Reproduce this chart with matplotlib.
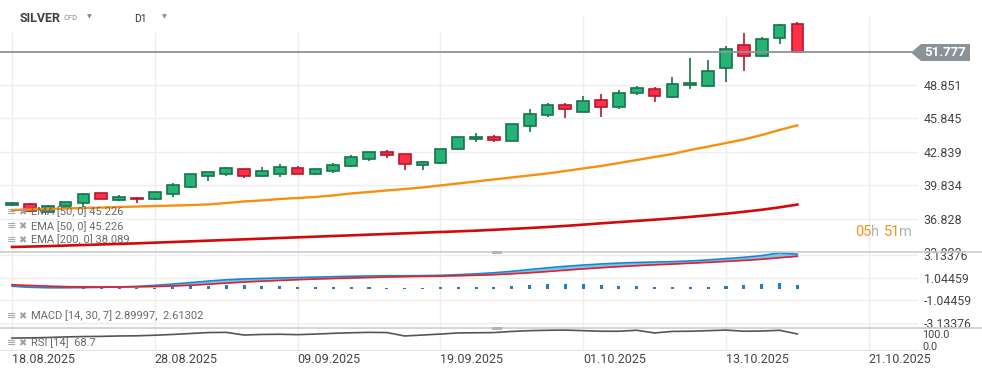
import matplotlib
matplotlib.use("Agg")
import matplotlib.pyplot as plt
from matplotlib.patches import Rectangle, Polygon
from matplotlib.lines import Line2D
import numpy as np

plt.rcParams['font.family'] = ['Roboto', 'DejaVu Sans']

# ---------------- data ----------------
date_labels = ["18.08.2025", "28.08.2025", "09.09.2025", "19.09.2025",
               "01.10.2025", "13.10.2025", "21.10.2025"]
label_idx = [0, 8, 16, 24, 32, 40, 48]

opens = [38.02, 38.15, 37.45, 37.95, 38.20, 39.10, 38.50, 38.72, 38.56, 39.00,
         39.70, 40.70, 40.88, 41.25, 40.70, 40.87, 41.35, 40.88, 41.15, 41.55,
         42.16, 42.80, 42.60, 41.65, 41.80, 43.06, 43.98, 44.14, 43.80, 45.13,
         46.12, 47.02, 46.45, 47.47, 46.90, 48.10, 48.46, 47.74, 48.82, 48.73,
         50.35, 52.45, 51.43, 53.05, 54.34]
highs = [38.30, 38.25, 38.05, 38.35, 39.15, 39.12, 38.95, 38.78, 39.25, 40.05,
         40.85, 41.02, 41.45, 41.28, 41.47, 41.74, 41.56, 41.28, 41.83, 42.55,
         42.82, 42.97, 42.62, 42.00, 43.08, 44.16, 44.53, 44.35, 45.33, 46.69,
         47.23, 47.23, 47.86, 48.04, 48.40, 48.76, 48.64, 49.57, 51.25, 51.10,
         52.36, 53.53, 53.17, 54.34, 54.52]
lows = [37.98, 37.45, 37.38, 37.78, 37.90, 38.55, 38.45, 38.20, 38.50, 38.80,
        39.60, 40.25, 40.70, 40.50, 40.60, 40.60, 40.85, 40.78, 40.96, 41.50,
        42.04, 42.30, 41.23, 41.23, 41.78, 43.04, 43.75, 43.75, 43.78, 44.65,
        45.99, 45.91, 46.40, 45.99, 46.72, 47.98, 47.35, 47.70, 48.52, 48.70,
        49.15, 50.14, 51.40, 52.51, 51.75]
closes = [38.23, 37.52, 38.00, 38.30, 39.05, 38.60, 38.75, 38.58, 39.20, 39.88,
          40.80, 41.00, 41.35, 40.70, 41.08, 41.44, 40.88, 41.26, 41.62, 42.34,
          42.80, 42.52, 41.72, 41.90, 43.06, 44.14, 44.14, 43.87, 45.31, 46.21,
          47.02, 46.66, 47.38, 46.90, 48.10, 48.55, 47.83, 48.91, 49.00, 50.08,
          52.06, 51.43, 52.96, 54.25, 51.777]

ema50 = [37.60, 37.64, 37.69, 37.73, 37.78, 37.82, 37.87, 37.91, 37.96, 38.00,
         38.04, 38.10, 38.23, 38.37, 38.46, 38.59, 38.68, 38.77, 38.91, 39.09,
         39.22, 39.36, 39.49, 39.63, 39.81, 39.99, 40.17, 40.35, 40.53, 40.71,
         40.89, 41.11, 41.34, 41.56, 41.83, 42.10, 42.37, 42.64, 43.00, 43.31,
         43.63, 43.95, 44.35, 44.80, 45.226]
ema200 = [34.27, 34.31, 34.35, 34.40, 34.45, 34.50, 34.55, 34.60, 34.66, 34.72,
          34.78, 34.84, 34.90, 34.96, 35.02, 35.08, 35.14, 35.20, 35.26, 35.32,
          35.38, 35.44, 35.50, 35.56, 35.62, 35.68, 35.74, 35.82, 35.90, 35.98,
          36.07, 36.17, 36.28, 36.40, 36.51, 36.62, 36.73, 36.85, 36.98, 37.12,
          37.27, 37.44, 37.62, 37.84, 38.089]

macd = [0.26, 0.16, 0.12, 0.12, 0.13, 0.15, 0.19, 0.25, 0.34, 0.46,
        0.60, 0.74, 0.86, 0.94, 0.99, 1.03, 1.07, 1.11, 1.15, 1.19,
        1.22, 1.24, 1.24, 1.25, 1.28, 1.34, 1.42, 1.52, 1.65, 1.82,
        1.98, 2.12, 2.24, 2.34, 2.42, 2.48, 2.52, 2.56, 2.62, 2.72,
        2.84, 2.96, 3.12, 3.38, 3.25]
signal = [0.40, 0.33, 0.27, 0.22, 0.20, 0.19, 0.19, 0.20, 0.23, 0.28,
          0.35, 0.45, 0.55, 0.65, 0.73, 0.80, 0.87, 0.93, 0.98, 1.03,
          1.07, 1.12, 1.15, 1.18, 1.20, 1.24, 1.28, 1.34, 1.42, 1.52,
          1.63, 1.76, 1.88, 1.99, 2.09, 2.18, 2.26, 2.33, 2.41, 2.49,
          2.58, 2.67, 2.78, 2.92, 3.06]
hist = [0.0, 0.0, 0.0, 0.0, 0.08, 0.08, 0.08, 0.08, 0.08, 0.19,
        0.25, 0.28, 0.37, 0.37, 0.28, 0.28, 0.16, 0.16, 0.16, 0.16,
        0.16, 0.09, 0.09, 0.09, 0.16, 0.15, 0.18, 0.20, 0.28, 0.40,
        0.46, 0.46, 0.43, 0.34, 0.31, 0.28, 0.22, 0.19, 0.15, 0.22,
        0.28, 0.34, 0.43, 0.53, 0.34]
rsi = [47, 48, 50, 53, 55, 56, 58, 59, 62, 66,
       71, 76, 77, 63, 66, 67, 65, 68, 72, 75,
       77, 76, 58, 63, 68, 74, 75, 76, 82, 86,
       88, 89, 86, 83, 83, 88, 74, 82, 83, 86,
       89, 83, 84, 88, 68.7]

price_ticks = [33.823, 36.828, 39.834, 42.839, 45.845, 48.851]
macd_ticks = [-3.13376, -1.04459, 1.04459, 3.13376]
last_price = 51.777

# ---------------- layout helpers ----------------
W, H = 982, 375
fig = plt.figure(figsize=(W / 100, H / 100), dpi=100)
fig.patch.set_facecolor('white')


def fx(x):
    return x / W


def fy(y):
    return 1 - y / H


def ftext(x, y, s, **kw):
    kw.setdefault('va', 'center')
    kw.setdefault('ha', 'left')
    return fig.text(fx(x), fy(y), s, **kw)


XR = 918
xlim = ((0 - 12) / 17.85, (XR - 12) / 17.85)
x = np.arange(len(closes))

GRID = '#eeeeee'
TXT = '#454545'

# main price panel
ax = fig.add_axes([0, fy(252), XR / W, (252 - 17) / H], zorder=0)
ax.set_xlim(*xlim)
ax.set_ylim(33.82, 54.97)
for s in ax.spines.values():
    s.set_visible(False)
ax.set_xticks(label_idx)
ax.set_xticklabels([])
ax.set_yticks(price_ticks)
ax.set_yticklabels([f"{v:.3f}" for v in price_ticks])
ax.yaxis.tick_right()
ax.tick_params(axis='y', length=0, pad=4, labelsize=9, labelcolor=TXT)
ax.tick_params(axis='x', length=0)
ax.grid(True, color=GRID, lw=1)
ax.set_axisbelow(True)

GREEN, GREEN_E = '#26b376', '#17734c'
RED, RED_E = '#ff2f49', '#b5162d'
for i in x:
    up = closes[i] >= opens[i]
    fc, ec = (GREEN, GREEN_E) if up else (RED, RED_E)
    ax.vlines(i, lows[i], highs[i], colors=ec, lw=1.2, zorder=3)
    lo, hi = min(opens[i], closes[i]), max(opens[i], closes[i])
    ax.bar(i, hi - lo, bottom=lo, width=0.66, color=fc, edgecolor=ec,
           linewidth=1.2, zorder=4)

ax.plot(x, ema50, color='#f7900c', lw=1.7, zorder=5)
ax.plot(x, ema200, color='#d20a0a', lw=1.9, zorder=5)
ax.axhline(last_price, xmin=0, xmax=911 / XR, color='#8a9498', lw=1.3, zorder=6)

# header cover
ax.add_patch(Rectangle((0, fy(33)), fx(470), 1 - fy(33), transform=fig.transFigure,
                       facecolor='white', edgecolor='none', zorder=2))

# MACD panel
ax2 = fig.add_axes([0, fy(328), XR / W, 76 / H], zorder=2)
ax2.set_xlim(*xlim)
ax2.set_ylim(-(328 - 289) / 10.7, (289 - 252) / 10.7)
for s in ax2.spines.values():
    s.set_visible(False)
ax2.set_xticks(label_idx)
ax2.set_xticklabels([])
ax2.set_yticks(macd_ticks)
ax2.set_yticklabels([f"{v:.5f}" for v in macd_ticks])
ax2.yaxis.tick_right()
ax2.tick_params(axis='y', length=0, pad=4, labelsize=8.8, labelcolor=TXT)
ax2.tick_params(axis='x', length=0)
ax2.grid(True, color=GRID, lw=1)
ax2.set_axisbelow(True)
m = np.array(macd)
sg = np.array(signal)
ax2.fill_between(x, m, sg, where=m >= sg, interpolate=True, color='#7cc3ee', lw=0, zorder=2)
ax2.fill_between(x, m, sg, where=m < sg, interpolate=True, color='#d98a96', lw=0, zorder=2)
ax2.bar(x, hist, width=0.17, color='#1b7fd0', zorder=3)
ax2.plot(x, macd, color='#1a86d0', lw=1.2, zorder=4)
ax2.plot(x, signal, color='#e0202a', lw=1.2, zorder=4)

# RSI panel
ax3 = fig.add_axes([0, fy(350), XR / W, 22 / H], zorder=2)
ax3.set_xlim(*xlim)
ax3.set_ylim(-(350 - 347) * 100 / 19, (347 - 328) * 100 / 19)
for s in ax3.spines.values():
    s.set_visible(False)
ax3.spines['bottom'].set_visible(True)
ax3.spines['bottom'].set_color('#e6e6e6')
ax3.set_yticks([])
ax3.set_xticks(label_idx)
ax3.set_xticklabels(date_labels, ha='left')
ax3.tick_params(axis='x', length=0, pad=2, labelsize=9, labelcolor=TXT)
ax3.grid(True, axis='x', color=GRID, lw=1)
ax3.set_axisbelow(True)
ax3.plot(x, rsi, color='#555555', lw=1.2, zorder=3)

# cover for clipped bottom price label
fig.add_artist(Rectangle((fx(XR), 0), 1 - fx(XR), fy(252.5), transform=fig.transFigure,
                         facecolor='white', edgecolor='none', zorder=1))

# separators and handles
for yy in (252, 328):
    fig.add_artist(Line2D([0, 1], [fy(yy), fy(yy)], transform=fig.transFigure,
                          color='#cdcdcd', lw=1.2, zorder=5))
    fig.add_artist(Rectangle((fx(492), fy(yy + 1.5)), fx(10), 3 / H, transform=fig.transFigure,
                             facecolor='#b4b4b4', edgecolor='none', zorder=6))

# last price label
pts = [(911, 52.5), (921, 44), (970, 44), (970, 61), (921, 61)]
fig.add_artist(Polygon([(fx(a), fy(b)) for a, b in pts], closed=True, transform=fig.transFigure,
                       facecolor='#8a9498', edgecolor='none', zorder=6))
ftext(945.5, 52.5, f"{last_price:.3f}", ha='center', color='white', fontsize=9.5,
      fontweight='bold', zorder=7)

# header
ftext(20, 18, "SILVER", color='#3d4246', fontsize=9, fontweight='bold')
ftext(64, 18.5, "CFD", color='#8a8a8a', fontsize=5.5)
ftext(87, 16.5, "▼", color='#8a8a8a', fontsize=4.5, family='DejaVu Sans')
ftext(134, 19, "D1", color='#333333', fontsize=7.5)
ftext(162, 16.5, "▼", color='#8a8a8a', fontsize=4.5, family='DejaVu Sans')

# countdown
ftext(855, 232, "05", color='#f7931a', fontsize=10.5)
ftext(871, 232, "h", color='#b5b5b5', fontsize=10.5)
ftext(884, 232, "51", color='#f7931a', fontsize=10.5)
ftext(899, 232, "m", color='#b5b5b5', fontsize=10.5)

# legends
LEG = '#6a6a6a'
ICON = '#a0a0a0'
legend_rows = [(212, "EMA [50, 0] 45.226"), (226.5, "EMA [50, 0] 45.226"),
               (240, "EMA [200, 0] 38.089"), (316, "MACD [14, 30, 7] 2.89997,  2.61302"),
               (343, "RSI [14]  68.7")]
for yy, s in legend_rows:
    ftext(7, yy, "≡", color=ICON, fontsize=8, family='DejaVu Sans', zorder=8)
    ftext(18, yy, "✖", color=ICON, fontsize=7, family='DejaVu Sans', zorder=8)
    ftext(31, yy, s, color=LEG, fontsize=8, zorder=8)

# RSI labels
ftext(922, 335.3, "100.0", color=TXT, fontsize=7.8, zorder=8)
ftext(922, 346.5, "0.0", color=TXT, fontsize=7.8, zorder=8)

fig.savefig("out.png", dpi=100, facecolor='white')
